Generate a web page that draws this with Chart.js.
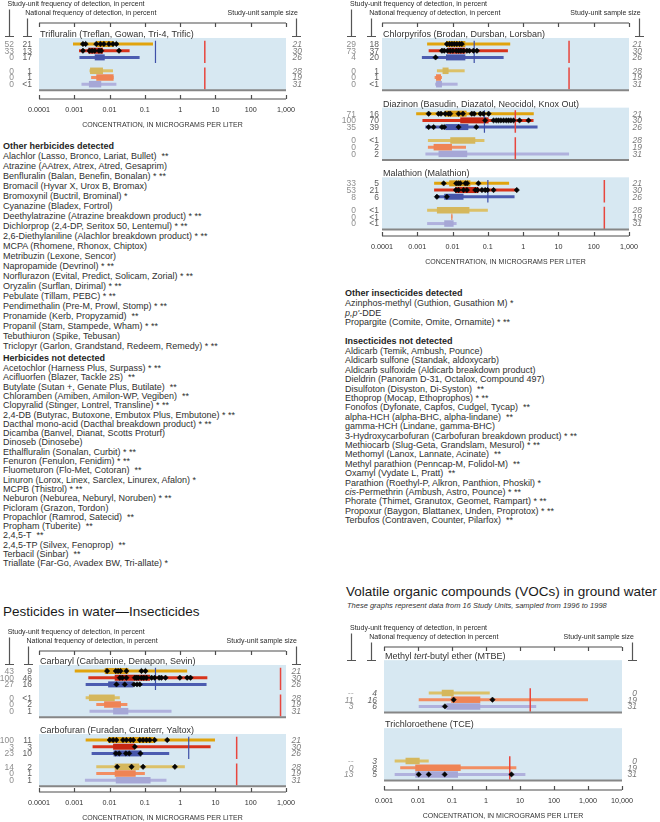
<!DOCTYPE html>
<html><head><meta charset="utf-8">
<script src="https://cdn.jsdelivr.net/npm/chart.js@4.4.1/dist/chart.umd.min.js"></script>
<style>
html,body{margin:0;padding:0;background:#fff}
#page{position:relative;width:660px;height:822px;overflow:hidden;font-family:"Liberation Sans",Arial,Helvetica,sans-serif;color:#2b2b2b}
canvas{position:absolute}
.t{position:absolute;white-space:nowrap;line-height:10px;font-size:9px;color:#2f2f2f}
.h{font-weight:bold;color:#1e1e1e}
.big{font-size:13.5px;line-height:16px;color:#1a1a1a}
.sub{font-size:7.5px;font-style:italic;line-height:9px;color:#333}
</style></head><body><div id="page">
<canvas id="cA"></canvas><canvas id="cB"></canvas><canvas id="cC"></canvas><canvas id="cD"></canvas>
</div>
<script>
// ================= DATA =================
const pestTickValues = [0.0001, 0.001, 0.01, 0.1, 1, 10, 100, 1000];
const pestTickLabels = ['0.0001', '0.001', '0.01', '0.1', '1', '10', '100', '1,000'];
const vocTickValues = [0.001, 0.01, 0.1, 1, 10, 100, 1000, 10000];
const vocTickLabels = ['0.001', '0.01', '0.1', '1', '10', '100', '1,000', '10,000'];
const axisTitle = 'CONCENTRATION, IN MICROGRAMS PER LITER';

// Trifluralin
const trifluralinName = 'Trifluralin (Treflan, Gowan, Tri-4, Trific)';
const trifluralinStudyFreq = ['52', '33', '0', '0', '0', '0'];
const trifluralinNationalFreq = ['21', '13', '17', '1', '1', '<1'];
const trifluralinSampleSize = ['21', '30', '26', '28', '19', '31'];
const trifluralinRange = [[0.00092, 0.17], [0.00136, 0.037], [0.0014, 0.071], [0.0027, 0.0125], [0.003, 0.013], [0.0016, 0.0156]];
const trifluralinBox = [[0.0042, 0.013], [0.0025, 0.0065], [0.0038, 0.0073], [0.0028, 0.0065], [0.0042, 0.013], [0.0026, 0.0058]];
const trifluralinDetections = [[0.00176, 0.0021, 0.0042, 0.0055, 0.0069, 0.0096, 0.0125, 0.0156], [0.00176, 0.0027, 0.0032, 0.0038, 0.005, 0.0058, 0.0185], [], [], [], []];
const trifluralinAquatic = 0.2;
const trifluralinDrinking = 5;

// Chlorpyrifos
const chlorpyrifosName = 'Chlorpyrifos (Brodan, Dursban, Lorsban)';
const chlorpyrifosStudyFreq = ['29', '73', '4', '0', '0', '0'];
const chlorpyrifosNationalFreq = ['18', '37', '20', '1', '1', '<1'];
const chlorpyrifosSampleSize = ['21', '30', '26', '28', '19', '31'];
const chlorpyrifosRange = [[0.0019, 0.43], [0.0021, 0.37], [0.00135, 0.28], [0.0036, 0.022], [0.0031, 0.005], [0.0032, 0.0139]];
const chlorpyrifosBox = [[0.0065, 0.023], [0.0072, 0.023], [0.0065, 0.023], [0.0052, 0.0077], [0.0034, 0.0047], [0.0034, 0.005]];
const chlorpyrifosDetections = [[0.0069, 0.0082, 0.0096, 0.0112, 0.0132, 0.0158, 0.0183], [0.005, 0.0058, 0.0072, 0.0086, 0.0102, 0.0127, 0.0148, 0.0172, 0.0204, 0.0255, 0.03, 0.039, 0.049], [0.0033], [], [], []];
const chlorpyrifosAquatic = 0.041;
const chlorpyrifosDrinking = 20;

// Diazinon
const diazinonName = 'Diazinon (Basudin, Diazatol, Neocidol, Knox Out)';
const diazinonStudyFreq = ['71', '100', '35', '0', '0', '0'];
const diazinonNationalFreq = ['16', '70', '39', '<1', '2', '2'];
const diazinonSampleSize = ['21', '30', '26', '28', '19', '31'];
const diazinonRange = [[0.00093, 2.0], [0.0014, 1.97], [0.0017, 2.56], [0.002, 0.08], [0.002, 0.024], [0.0017, 20]];
const diazinonBox = [[0.006, 0.025], [0.0165, 0.105], [0.0062, 0.028], [0.0086, 0.044], [0.0029, 0.0096], [0.004, 0.026]];
const diazinonDetections = [[0.0021, 0.004, 0.0047, 0.0062, 0.0077, 0.0086, 0.0148, 0.0197, 0.035, 0.041, 0.061, 0.075, 0.105], [0.084, 0.145, 0.173, 0.2, 0.234, 0.279, 0.332, 0.386, 0.45, 0.535, 0.79, 1.42], [0.0021, 0.0029, 0.005, 0.0058, 0.0148, 0.047], [], [], []];
const diazinonAquatic = 0.08;
const diazinonDrinking = 0.6;

// Malathion
const malathionName = 'Malathion (Malathion)';
const malathionStudyFreq = ['33', '53', '8', '0', '0', '0'];
const malathionNationalFreq = ['5', '21', '6', '<1', '<1', '<1'];
const malathionSampleSize = ['21', '30', '26', '28', '19', '31'];
const malathionRange = [[0.003, 0.4], [0.003, 0.66], [0.0032, 0.57], [0.0019, 0.1], [0.0092, 0.0099], [0.0019, 0.013]];
const malathionBox = [[0.008, 0.032], [0.012, 0.054], [0.0058, 0.0204], [0.0036, 0.03], [0.0092, 0.0099], [0.0058, 0.0107]];
const malathionDetections = [[0.0056, 0.0127, 0.0145, 0.0165, 0.023, 0.026, 0.054], [0.0124, 0.0148, 0.0204, 0.0255, 0.044, 0.051, 0.068, 0.084, 0.098, 0.145, 0.66], [0.0036, 0.0069], [], [], []];
const malathionAquatic = 0.1;
const malathionDrinking = 200;

// Carbaryl
const carbarylName = 'Carbaryl (Carbamine, Denapon, Sevin)';
const carbarylStudyFreq = ['43', '100', '27', '0', '0', '0'];
const carbarylNationalFreq = ['9', '46', '16', '<1', '2', '1'];
const carbarylSampleSize = ['21', '30', '26', '28', '19', '31'];
const carbarylRange = [[0.00103, 1.58], [0.0025, 5.9], [0.0021, 5.6], [0.0021, 0.0195], [0.0042, 0.032], [0.0027, 0.57]];
const carbarylBox = [[0.0073, 0.034], [0.014, 0.14], [0.0091, 0.047], [0.0026, 0.014], [0.007, 0.021], [0.0126, 0.034]];
const carbarylDetections = [[0.0085, 0.015, 0.0174, 0.0204, 0.03, 0.08, 0.104], [0.0195, 0.023, 0.03, 0.052, 0.058, 0.065, 0.08, 0.093, 0.111, 0.155, 0.19, 0.254, 0.295, 0.385, 0.98, 1.58, 1.97], [0.0157, 0.027, 0.049, 0.06, 0.072], [], [], []];
const carbarylAquatic = 0.2;
const carbarylDrinking = 700;

// Carbofuran
const carbofuranName = 'Carbofuran (Furadan, Curaterr, Yaltox)';
const carbofuranStudyFreq = ['100', '3', '23', '14', '0', '0'];
const carbofuranNationalFreq = ['11', '3', '10', '2', '1', '1'];
const carbofuranSampleSize = ['21', '30', '26', '28', '19', '31'];
const carbofuranRange = [[0.0021, 9.7], [0.0033, 7.3], [0.0031, 0.49], [0.0042, 1.36], [0.0042, 0.1], [0.002, 0.41]];
const carbofuranBox = [[0.0091, 0.19], [0.0126, 0.052], [0.013, 0.08], [0.014, 0.069], [0.014, 0.055], [0.015, 0.145]];
const carbofuranDetections = [[0.0101, 0.0126, 0.0157, 0.024, 0.03, 0.039, 0.047, 0.072, 0.089, 0.111, 0.138, 0.19, 0.43], [0.052], [0.015, 0.0187, 0.029, 0.036, 0.075], [0.0164, 0.042, 0.089, 0.71], [], []];
const carbofuranAquatic = 1.75;
const carbofuranDrinking = 40;

// MTBE
const mtbeStudyFreq = ['', '', '', '--', '11', '3'];
const mtbeNationalFreq = ['', '', '', '4', '16', '6'];
const mtbeSampleSize = ['', '', '', '0', '19', '31'];
const mtbeRange = [null, null, null, [0.0207, 1.29], [0.0105, 1000], [0.0105, 30]];
const mtbeBox = [null, null, null, [0.05, 0.112], [0.095, 0.68], [0.068, 0.68]];
const mtbeDetections = [[], [], [], [], [0.112, 1.55], [0.062]];
const mtbeDrinking = 20;

// TCE
const tceName = 'Trichloroethene (TCE)';
const tceStudyFreq = ['', '', '', '--', '0', '13'];
const tceNationalFreq = ['', '', '', '3', '8', '5'];
const tceSampleSize = ['', '', '', '0', '19', '31'];
const tceRange = [null, null, null, [0.00206, 0.0207], [0.003, 7.8], [0.00206, 14.4]];
const tceBox = [null, null, null, [0.0043, 0.0112], [0.0083, 0.18], [0.0083, 0.15]];
const tceDetections = [[], [], [], [], [], [0.0105, 0.0207, 0.061, 5.6]];
const tceDrinking = 5;

// Text lists
const otherHerbicides = ['Alachlor (Lasso, Bronco, Lariat, Bullet)&nbsp; **', 'Atrazine (AAtrex, Atrex, Atred, Gesaprim)', 'Benfluralin (Balan, Benefin, Bonalan) * **', 'Bromacil (Hyvar X, Urox B, Bromax)', 'Bromoxynil (Buctril, Brominal) *', 'Cyanazine (Bladex, Fortrol)', 'Deethylatrazine (Atrazine breakdown product) * **', 'Dichlorprop (2,4-DP, Seritox 50, Lentemul) * **', '2,6-Diethylaniline (Alachlor breakdown product) * **', 'MCPA (Rhomene, Rhonox, Chiptox)', 'Metribuzin (Lexone, Sencor)', 'Napropamide (Devrinol) * **', 'Norflurazon (Evital, Predict, Solicam, Zorial) * **', 'Oryzalin (Surflan, Dirimal) * **', 'Pebulate (Tillam, PEBC) * **', 'Pendimethalin (Pre-M, Prowl, Stomp) * **', 'Pronamide (Kerb, Propyzamid)&nbsp; **', 'Propanil (Stam, Stampede, Wham) * **', 'Tebuthiuron (Spike, Tebusan)', 'Triclopyr (Garlon, Grandstand, Redeem, Remedy) * **'];
const herbicidesNotDetected = ['Acetochlor (Harness Plus, Surpass) * **', 'Acifluorfen (Blazer, Tackle 2S)&nbsp; **', 'Butylate (Sutan +, Genate Plus, Butilate)&nbsp; **', 'Chloramben (Amiben, Amilon-WP, Vegiben)&nbsp; **', 'Clopyralid (Stinger, Lontrel, Transline) * **', '2,4-DB (Butyrac, Butoxone, Embutox Plus, Embutone) * **', 'Dacthal mono-acid (Dacthal breakdown product) * **', 'Dicamba (Banvel, Dianat, Scotts Proturf)', 'Dinoseb (Dinosebe)', 'Ethalfluralin (Sonalan, Curbit) * **', 'Fenuron (Fenulon, Fenidim) * **', 'Fluometuron (Flo-Met, Cotoran)&nbsp; **', 'Linuron (Lorox, Linex, Sarclex, Linurex, Afalon) *', 'MCPB (Thistrol) * **', 'Neburon (Neburea, Neburyl, Noruben) * **', 'Picloram (Grazon, Tordon)', 'Propachlor (Ramrod, Satecid)&nbsp; **', 'Propham (Tuberite)&nbsp; **', '2,4,5-T&nbsp; **', '2,4,5-TP (Silvex, Fenoprop)&nbsp; **', 'Terbacil (Sinbar)&nbsp; **', 'Triallate (Far-Go, Avadex BW, Tri-allate) *'];
const otherInsecticides = ['Azinphos-methyl (Guthion, Gusathion M) *', '<i>p,p\'</i>-DDE', 'Propargite (Comite, Omite, Ornamite) * **'];
const insecticidesNotDetected = ['Aldicarb (Temik, Ambush, Pounce)', 'Aldicarb sulfone (Standak, aldoxycarb)', 'Aldicarb sulfoxide (Aldicarb breakdown product)', 'Dieldrin (Panoram D-31, Octalox, Compound 497)', 'Disulfoton (Disyston, Di-Syston)&nbsp; **', 'Ethoprop (Mocap, Ethoprophos) * **', 'Fonofos (Dyfonate, Capfos, Cudgel, Tycap)&nbsp; **', 'alpha-HCH (alpha-BHC, alpha-lindane)&nbsp; **', 'gamma-HCH (Lindane, gamma-BHC)', '3-Hydroxycarbofuran (Carbofuran breakdown product) * **', 'Methiocarb (Slug-Geta, Grandslam, Mesurol) * **', 'Methomyl (Lanox, Lannate, Acinate)&nbsp; **', 'Methyl parathion (Penncap-M, Folidol-M)&nbsp; **', 'Oxamyl (Vydate L, Pratt)&nbsp; **', 'Parathion (Roethyl-P, Alkron, Panthion, Phoskil) *', '<i>cis</i>-Permethrin (Ambush, Astro, Pounce) * **', 'Phorate (Thimet, Granutox, Geomet, Rampart) * **', 'Propoxur (Baygon, Blattanex, Unden, Proprotox) * **', 'Terbufos (Contraven, Counter, Pilarfox)&nbsp; **'];

// ================= STYLE / LAYOUT =================
const FONT = '"Liberation Sans", Arial, Helvetica, sans-serif';
const PANEL_BG = '#d7e8f2';
const ROW_POS = [0, 1, 2, 4, 5, 6];
const ROW_STYLE = [
  {line: '#e1a30c', box: '#d89d14', lw: 3, bw: 6},
  {line: '#d8341c', box: '#c62612', lw: 3, bw: 6},
  {line: '#4c5cb0', box: '#4656aa', lw: 3, bw: 6},
  {line: '#dcc168', box: '#d5b75c', lw: 3, bw: 6.5},
  {line: '#f28e62', box: '#ef8455', lw: 3, bw: 6.5},
  {line: '#b0b1dd', box: '#a6a7d6', lw: 3, bw: 6.5}
];
const AQUATIC_COLOR = '#3e50a8';
const DRINK_COLOR = '#e8463e';

Chart.defaults.font.family = FONT;

function panel(title, study, nat, sample, range, box, det, aquatic, drinking, vocOnly) {
  return {title, study, nat, sample, range, box, det, aquatic, drinking, vocOnly};
}
const trifluralinPanel = panel([{t: trifluralinName}], trifluralinStudyFreq, trifluralinNationalFreq, trifluralinSampleSize, trifluralinRange, trifluralinBox, trifluralinDetections, trifluralinAquatic, trifluralinDrinking);
const chlorpyrifosPanel = panel([{t: chlorpyrifosName}], chlorpyrifosStudyFreq, chlorpyrifosNationalFreq, chlorpyrifosSampleSize, chlorpyrifosRange, chlorpyrifosBox, chlorpyrifosDetections, chlorpyrifosAquatic, chlorpyrifosDrinking);
const diazinonPanel = panel([{t: diazinonName}], diazinonStudyFreq, diazinonNationalFreq, diazinonSampleSize, diazinonRange, diazinonBox, diazinonDetections, diazinonAquatic, diazinonDrinking);
const malathionPanel = panel([{t: malathionName}], malathionStudyFreq, malathionNationalFreq, malathionSampleSize, malathionRange, malathionBox, malathionDetections, malathionAquatic, malathionDrinking);
const carbarylPanel = panel([{t: carbarylName}], carbarylStudyFreq, carbarylNationalFreq, carbarylSampleSize, carbarylRange, carbarylBox, carbarylDetections, carbarylAquatic, carbarylDrinking);
const carbofuranPanel = panel([{t: carbofuranName}], carbofuranStudyFreq, carbofuranNationalFreq, carbofuranSampleSize, carbofuranRange, carbofuranBox, carbofuranDetections, carbofuranAquatic, carbofuranDrinking);
const mtbePanel = panel([{t: 'Methyl '}, {t: 'tert', i: true}, {t: '-butyl ether (MTBE)'}], mtbeStudyFreq, mtbeNationalFreq, mtbeSampleSize, mtbeRange, mtbeBox, mtbeDetections, null, mtbeDrinking, true);
const tcePanel = panel([{t: tceName}], tceStudyFreq, tceNationalFreq, tceSampleSize, tceRange, tceBox, tceDetections, null, tceDrinking, true);

const BLOCKS = [
  {id: 'cA', left: 0, top: 0, w: 330, h: 129, pad: {left: 39, right: 44, top: 23}, yMin: -3.134, yMax: 8.209, step: 0,
   panels: [trifluralinPanel], tv: pestTickValues, tl: pestTickLabels, min: 0.0001, max: 1000,
   cols: {study: 14, nat: 32, sample: 302, b1: 8.5, b2: 26.7, b3: 295.7, hdr: 298}, italicLeft: false,
   hdr2: 'National frequency of detection, in percent'},
  {id: 'cB', left: 330, top: 0, w: 330, h: 266, pad: {left: 52, right: 31, top: 23}, yMin: -3.134, yMax: 28.657, step: 10.4,
   panels: [chlorpyrifosPanel, diazinonPanel, malathionPanel], tv: pestTickValues, tl: pestTickLabels, min: 0.0001, max: 1000,
   cols: {study: 26, nat: 49, sample: 312, b1: 21, b2: 40.7, b3: 308.7, hdr: 310.7}, italicLeft: false,
   hdr2: 'National frequency of detection, in percent'},
  {id: 'cC', left: 0, top: 620, w: 330, h: 202, pad: {left: 39, right: 44, top: 31}, yMin: -2.985, yMax: 18.06, step: 10.3,
   panels: [carbarylPanel, carbofuranPanel], tv: pestTickValues, tl: pestTickLabels, min: 0.0001, max: 1000,
   cols: {study: 14, nat: 32, sample: 301, b1: 8.7, b2: 28, b3: 295.7, hdr: 297}, italicLeft: false,
   hdr2: 'National frequency of detection, in percent'},
  {id: 'cD', left: 330, top: 615, w: 330, h: 205, pad: {left: 54, right: 38, top: 32}, yMin: -2.866, yMax: 18.48, step: 10.15,
   panels: [mtbePanel, tcePanel], tv: vocTickValues, tl: vocTickLabels, min: 0.001, max: 10000,
   cols: {study: 23.5, nat: 47, sample: 307, b1: 21, b2: 40.7, b3: 301.7, hdr: 304}, italicLeft: true,
   hdr2: 'National frequency of detection in percent'}
];

function buildDatasets(block) {
  const ds = [];
  block.panels.forEach((p, pi) => {
    const base = pi * block.step;
    ROW_POS.forEach((r, ri) => {
      const y = base + r, st = ROW_STYLE[ri];
      if (p.range[ri]) ds.push({showLine: true, data: p.range[ri].map(x => ({x, y})), borderColor: st.line, borderWidth: st.lw, pointRadius: 0, borderCapStyle: 'butt', order: 5});
      if (p.box[ri]) ds.push({showLine: true, data: p.box[ri].map(x => ({x, y})), borderColor: st.box, borderWidth: st.bw, pointRadius: 0, borderCapStyle: 'butt', order: 4});
      if (p.det[ri] && p.det[ri].length) ds.push({data: p.det[ri].map(x => ({x, y})), pointStyle: 'rectRot', pointRadius: 2.7, backgroundColor: '#050505', borderColor: '#050505', borderWidth: 0.5, order: 1});
    });
    if (p.aquatic) ds.push({showLine: true, data: [{x: p.aquatic, y: base - 0.5}, {x: p.aquatic, y: base + 2.85}], borderColor: AQUATIC_COLOR, borderWidth: 1.2, pointRadius: 0, order: 2});
    if (p.drinking) {
      if (!p.vocOnly) ds.push({showLine: true, data: [{x: p.drinking, y: base - 0.5}, {x: p.drinking, y: base + 2.85}], borderColor: DRINK_COLOR, borderWidth: 1.5, pointRadius: 0, order: 3});
      ds.push({showLine: true, data: [{x: p.drinking, y: base + (p.vocOnly ? 3.3 : 3.5)}, {x: p.drinking, y: base + 6.8}], borderColor: DRINK_COLOR, borderWidth: 1.5, pointRadius: 0, order: 3});
    }
  });
  return ds;
}

function drawRich(ctx, segs, x, y, size, color) {
  let cx = x;
  segs.forEach(s => {
    ctx.font = (s.i ? 'italic ' : '') + size + 'px ' + FONT;
    ctx.fillStyle = color;
    ctx.fillText(s.t, cx, y);
    cx += ctx.measureText(s.t).width;
  });
}

function blockPlugin(block) {
  return {
    id: 'blk' + block.id,
    beforeDatasetsDraw(chart) {
      const {ctx, chartArea: ca} = chart, y = chart.scales.y;
      ctx.save();
      block.panels.forEach((p, pi) => {
        const base = pi * block.step;
        const t = y.getPixelForValue(base - 0.9), b = y.getPixelForValue(base + 6.9);
        ctx.fillStyle = PANEL_BG;
        ctx.fillRect(ca.left, t, ca.right - ca.left, b - t);
      });
      ctx.restore();
    },
    afterDatasetsDraw(chart) {
      const {ctx, chartArea: ca} = chart, x = chart.scales.x, y = chart.scales.y;
      const c = block.cols;
      ctx.save();
      block.panels.forEach((p, pi) => {
        const base = pi * block.step;
        const t = y.getPixelForValue(base - 0.9), b = y.getPixelForValue(base + 6.9);
        ctx.strokeStyle = '#868686'; ctx.lineWidth = 2;
        ctx.beginPath(); ctx.moveTo(ca.left, b); ctx.lineTo(ca.right, b); ctx.stroke();
        ctx.textAlign = 'left'; ctx.textBaseline = 'alphabetic';
        drawRich(ctx, p.title, ca.left + 1, t - 1, 9, '#333');
        ROW_POS.forEach((r, ri) => {
          const py = y.getPixelForValue(base + r) + 0.5;
          ctx.textBaseline = 'middle'; ctx.textAlign = 'right';
          ctx.font = (block.italicLeft ? 'italic ' : '') + '8.5px ' + FONT;
          ctx.fillStyle = '#8e8e8e'; ctx.fillText(p.study[ri], c.study, py);
          ctx.fillStyle = '#5e5e5e'; ctx.fillText(p.nat[ri], c.nat, py);
          ctx.font = 'italic 8.5px ' + FONT;
          ctx.fillStyle = '#7a7a7a'; ctx.fillText(p.sample[ri], c.sample, py);
        });
      });
      // axes
      ctx.strokeStyle = '#4d4d4d'; ctx.lineWidth = 1.2;
      ctx.beginPath();
      ctx.moveTo(ca.left, ca.top); ctx.lineTo(ca.right, ca.top);
      ctx.moveTo(ca.left, ca.bottom); ctx.lineTo(ca.right, ca.bottom);
      x.ticks.forEach(tk => {
        const px = Math.round(x.getPixelForValue(tk.value)) + 0.5;
        ctx.moveTo(px, ca.top); ctx.lineTo(px, ca.top + 4);
        ctx.moveTo(px, ca.bottom); ctx.lineTo(px, ca.bottom - 4);
      });
      ctx.stroke();
      // headers
      ctx.fillStyle = '#2a2a2a'; ctx.font = '7px ' + FONT; ctx.textBaseline = 'middle';
      ctx.textAlign = 'left';
      ctx.fillText('Study-unit frequency of detection, in percent', c.b1 - 1, ca.top - 19.3);
      ctx.fillText(block.hdr2, c.b2 - 1.5, ca.top - 9.8);
      ctx.textAlign = 'right';
      ctx.fillText('Study-unit sample size', c.hdr, ca.top - 9.8);
      // brackets
      ctx.strokeStyle = '#555'; ctx.lineWidth = 1.2;
      ctx.beginPath();
      const yEnd = ca.top + 13.5;
      [[c.b1, ca.top - 13.5], [c.b2, ca.top - 4.5], [c.b3, ca.top - 4.5]].forEach(([bx, ys]) => {
        const px = Math.round(bx) + 0.5;
        ctx.moveTo(px, ys); ctx.lineTo(px, yEnd);
        ctx.moveTo(px - 4.5, yEnd); ctx.lineTo(px + 4.5, yEnd);
      });
      ctx.stroke();
      ctx.restore();
    }
  };
}

BLOCKS.forEach(block => {
  const cv = document.getElementById(block.id);
  cv.width = block.w; cv.height = block.h;
  cv.style.left = block.left + 'px'; cv.style.top = block.top + 'px';
  cv.style.width = block.w + 'px'; cv.style.height = block.h + 'px';
  new Chart(cv, {
    type: 'scatter',
    data: {datasets: buildDatasets(block)},
    options: {
      responsive: false, animation: false, devicePixelRatio: 1, events: [],
      layout: {padding: {left: block.pad.left, right: block.pad.right, top: block.pad.top, bottom: 0}},
      plugins: {legend: {display: false}, tooltip: {enabled: false}},
      elements: {line: {tension: 0}},
      scales: {
        x: {
          type: 'logarithmic', position: 'bottom', min: block.min, max: block.max,
          grid: {display: false, drawTicks: false}, border: {display: false},
          afterBuildTicks: s => { s.ticks = block.tv.map(v => ({value: v})); },
          afterFit: s => { s.height = 30; },
          ticks: {autoSkip: false, maxRotation: 0, padding: 6.5, color: '#333', font: {size: 7.2},
            callback: (v, i) => block.tl[i]},
          title: {display: true, text: axisTitle, color: '#333', font: {size: 7}, padding: {top: 0, bottom: 0}}
        },
        y: {type: 'linear', display: false, reverse: true, min: block.yMin, max: block.yMax}
      }
    },
    plugins: [blockPlugin(block)]
  });
});

// ================= HTML TEXT =================
const page = document.getElementById('page');
function addText(html, x, yc, cls, lh) {
  const d = document.createElement('div');
  d.className = 't ' + (cls || '');
  d.innerHTML = html;
  d.style.left = x + 'px';
  d.style.top = (yc - (lh || 10) / 2) + 'px';
  page.appendChild(d);
}
addText('Other herbicides detected', 3, 146, 'h');
otherHerbicides.forEach((s, i) => addText(s, 3, 156 + 10 * i));
addText('Herbicides not detected', 3, 358, 'h');
herbicidesNotDetected.forEach((s, i) => addText(s, 3, 368 + 9.3 * i));
addText('Other insecticides detected', 345, 293, 'h');
otherInsecticides.forEach((s, i) => addText(s, 345, 303 + 9.5 * i));
addText('Insecticides not detected', 345, 341, 'h');
insecticidesNotDetected.forEach((s, i) => addText(s, 345, 351 + 9.4 * i));
addText('Pesticides in water\u2014Insecticides', 3, 612, 'big', 16);
addText('Volatile organic compounds (VOCs) in ground water', 346, 592, 'big', 16);
addText('These graphs represent data from 16 Study Units, sampled from 1996 to 1998', 347, 605, 'sub', 9);
</script>
</body></html>
